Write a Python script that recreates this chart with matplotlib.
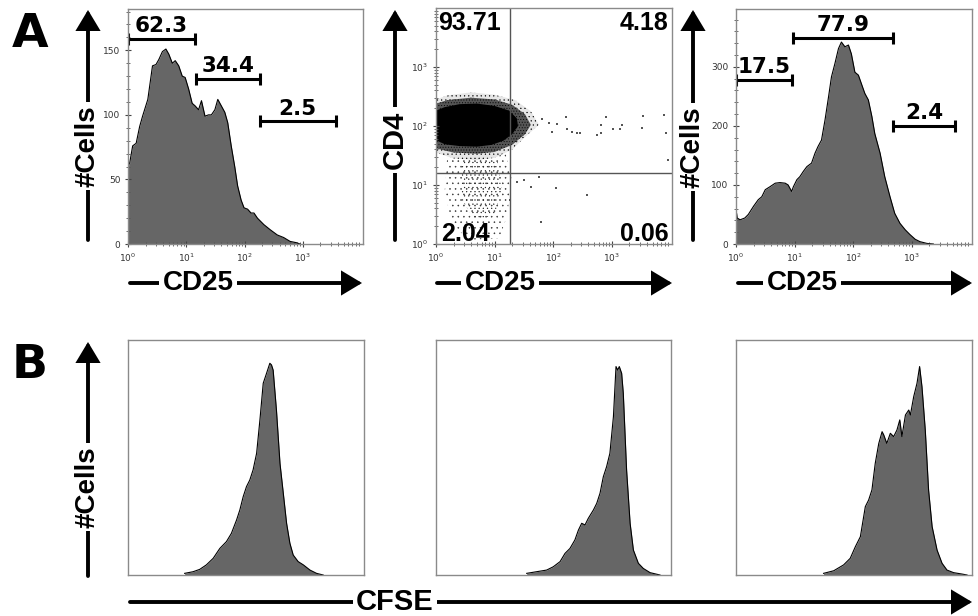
import matplotlib
matplotlib.use("Agg")
import matplotlib.pyplot as plt
import numpy as np
from matplotlib.ticker import FixedLocator, LogLocator, MultipleLocator, NullFormatter

W, H = 979, 616
plt.rcParams['hatch.linewidth'] = 0.35

# ---------------- data ----------------
# Panel A-left: CD25 histogram (log10 CD25, count)
a1_log = [0.0, 0.03, 0.08, 0.14, 0.20, 0.25, 0.34, 0.42, 0.48, 0.53, 0.59, 0.65, 0.70, 0.76,
          0.81, 0.87, 0.93, 0.98, 1.04, 1.10, 1.15, 1.21, 1.26, 1.32, 1.38, 1.43, 1.49, 1.54,
          1.60, 1.66, 1.71, 1.77, 1.83, 1.88, 1.94, 1.99, 2.05, 2.11, 2.16, 2.22, 2.33, 2.44,
          2.56, 2.67, 2.78, 2.89, 2.95]
a1_cnt = [60, 63, 76, 78, 91, 99, 112, 138, 139, 143, 149, 151, 147, 140,
          142, 138, 130, 129, 120, 109, 107, 104, 111, 99, 100, 100, 104, 112,
          107, 102, 94, 76, 60, 45, 34, 28, 27, 24, 24, 20, 15, 11,
          7, 5, 2, 1, 0]
a1_gates = [(1, 13.9, 159, "62.3"), (14.5, 181, 128, "34.4"), (181, 3650, 95, "2.5")]

# Panel A-middle: CD4 vs CD25 dot plot (log10 units)
core_x = [0.0, 0.15, 0.4, 0.7, 0.95, 1.15, 1.3, 1.4, 1.38, 1.25, 1.0, 0.7, 0.4, 0.15, 0.0]
core_y = [1.76, 1.69, 1.66, 1.65, 1.68, 1.75, 1.86, 2.0, 2.13, 2.26, 2.34, 2.38, 2.37, 2.32, 2.26]
fringe_x = [0.0, 0.3, 0.7, 1.0, 1.3, 1.52, 1.62, 1.52, 1.3, 1.0, 0.6, 0.2, 0.0]
fringe_y = [1.62, 1.55, 1.53, 1.56, 1.68, 1.86, 2.02, 2.2, 2.36, 2.45, 2.48, 2.44, 2.38]
halo_x = [0.0, 0.3, 0.7, 1.0, 1.3, 1.55, 1.76, 1.62, 1.35, 1.0, 0.6, 0.2, 0.0]
halo_y = [1.55, 1.45, 1.42, 1.46, 1.60, 1.84, 2.02, 2.25, 2.44, 2.53, 2.57, 2.52, 2.45]
sparse_x = [0.20, 1.17, 1.29, 1.22, 1.08, 0.58, 0.27, 0.15]
sparse_y = [1.59, 1.59, 1.17, 0.49, 0.10, 0.07, 0.32, 0.92]
dense_x = [0.44, 1.05, 1.12, 1.0, 0.66, 0.44]
dense_y = [1.42, 1.42, 0.92, 0.49, 0.41, 0.75]
dots_x = [1.81, 1.93, 2.07, 1.98, 2.22, 2.24, 2.32, 2.41, 2.46, 2.75, 2.81, 2.90, 2.81, 3.03,
          3.14, 3.17, 3.51, 3.54, 3.90, 3.92, 3.97, 1.39, 1.51, 1.63, 1.76, 2.05, 2.58, 1.80, 1.27]
dots_y = [2.12, 2.05, 2.03, 1.90, 2.15, 1.95, 1.90, 1.88, 1.88, 1.85, 1.88, 2.15, 2.02, 1.95,
          1.95, 2.02, 1.97, 2.17, 2.19, 1.88, 1.42, 1.05, 1.08, 0.97, 1.14, 0.95, 0.83, 0.37, 0.75]
quad_x, quad_y = 18.6, 15.8
quad_labels = ["93.71", "4.18", "2.04", "0.06"]

# Panel A-right: CD25 histogram
a3_log = [0.0, 0.01, 0.02, 0.07, 0.15, 0.21, 0.30, 0.38, 0.44, 0.50, 0.58, 0.67, 0.75, 0.84,
          0.89, 0.95, 0.98, 1.04, 1.09, 1.15, 1.21, 1.29, 1.35, 1.40, 1.46, 1.52, 1.58, 1.63,
          1.69, 1.75, 1.80, 1.86, 1.92, 1.97, 2.03, 2.09, 2.15, 2.20, 2.26, 2.32, 2.37, 2.46,
          2.54, 2.63, 2.71, 2.80, 2.89, 2.97, 3.06, 3.14, 3.26, 3.37]
a3_cnt = [50, 52, 44, 41, 44, 50, 64, 75, 80, 92, 97, 103, 104, 103,
          100, 89, 97, 109, 114, 123, 131, 137, 154, 165, 176, 210, 249, 283,
          306, 331, 342, 334, 337, 322, 291, 286, 269, 255, 244, 216, 187, 154,
          114, 80, 52, 35, 24, 16, 8, 4, 1, 0]
a3_gates = [(1, 9.0, 278, "17.5"), (9.4, 480, 349, "77.9"), (480, 5500, 200, "2.4")]

# Panel B: CFSE histograms (CFSE in % of scale, #cells in % of scale)
b1_x = [24.0, 27.6, 30.4, 33.2, 36.1, 38.9, 41.7, 43.8, 46.0, 47.4, 48.8, 50.2, 51.6, 53.0,
        54.5, 55.9, 57.3, 58.7, 60.1, 60.8, 61.5, 62.9, 64.4, 65.8, 67.2, 68.6, 70.0, 72.1,
        74.3, 77.1, 79.9, 82.7]
b1_y = [0.7, 1.4, 2.4, 4.3, 7.1, 11.3, 14.2, 17.7, 23.4, 27.7, 33.3, 37.6, 40.4, 44.7,
        51.8, 66.0, 81.6, 85.8, 90.1, 89.4, 87.2, 70.2, 47.5, 34.8, 22.0, 13.5, 8.5, 5.7,
        4.3, 2.1, 0.7, 0]
b2_x = [38.6, 42.8, 47.1, 49.9, 52.8, 54.9, 57.0, 59.1, 60.6, 62.0, 63.4, 64.8, 67.0, 68.4,
        69.8, 71.2, 72.6, 74.0, 75.5, 76.6, 77.3, 78.0, 79.0, 79.7, 81.1, 82.6, 84.0, 86.1,
        88.2, 91.1, 95.3]
b2_y = [0.7, 1.4, 2.1, 3.5, 5.7, 9.2, 11.3, 14.9, 19.1, 22.0, 21.3, 24.1, 27.7, 30.5,
        34.8, 41.8, 46.1, 51.8, 67.4, 88.7, 87.2, 88.7, 85.8, 77.3, 44.7, 22.0, 10.6, 5.0,
        2.8, 1.0, 0]
b3_x = [37.1, 41.4, 45.6, 48.4, 50.6, 52.7, 54.8, 56.2, 57.6, 59.0, 60.5, 61.9, 62.6, 63.9,
        65.4, 66.8, 68.2, 69.4, 70.3, 71.8, 73.2, 73.9, 75.3, 76.7, 77.8, 78.8, 80.2, 81.6,
        83.1, 85.2, 87.3, 89.4, 92.2, 95.8, 97.9]
b3_y = [0.7, 1.8, 4.3, 7.1, 12.1, 16.3, 29.1, 31.9, 36.2, 47.5, 56.0, 61.0, 59.6, 56.0,
        60.3, 58.9, 61.7, 66.0, 58.9, 68.1, 70.2, 68.1, 75.9, 81.6, 88.7, 80.1, 61.7, 36.2,
        20.6, 10.6, 5.0, 2.1, 1.0, 0.4, 0]

# ---------------- styling ----------------
LABEL_FONT = ['Liberation Sans Narrow', 'Liberation Sans', 'DejaVu Sans']
HIST_GRAY = '#666666'
SPINE = '#8a8a8a'

fig = plt.figure(figsize=(W / 100, H / 100), dpi=100)
fig.patch.set_facecolor('white')


def add_ax(x0, y0, x1, y1):
    return fig.add_axes([x0 / W, 1 - y1 / H, (x1 - x0) / W, (y1 - y0) / H])


def style_box(ax):
    for s in ax.spines.values():
        s.set_color(SPINE)
        s.set_linewidth(1.0)


def log_xaxis(ax):
    ax.set_xscale('log')
    ax.set_xlim(1, 10 ** 4.03)
    ax.xaxis.set_major_locator(FixedLocator([1, 10, 100, 1000]))
    ax.set_xticklabels([r'$10^{0}$', r'$10^{1}$', r'$10^{2}$', r'$10^{3}$'])
    ax.xaxis.set_minor_locator(LogLocator(base=10, subs=np.arange(2, 10), numticks=20))
    ax.xaxis.set_minor_formatter(NullFormatter())


def ticks(ax):
    ax.tick_params(which='major', direction='inout', length=5, width=0.8, colors='#444444',
                   labelsize=6.5, labelcolor='#333333', pad=3)
    ax.tick_params(which='minor', direction='inout', length=2.5, width=0.6, colors='#555555')
    ax.tick_params(top=False, right=False)


def histogram(ax, xs, ys):
    ax.fill_between(xs, ys, 0, color=HIST_GRAY, lw=0)
    ax.plot(xs, ys, color='black', lw=0.8)


def gate(ax, x0, x1, y, label):
    ax.plot([x0, x1], [y, y], color='black', lw=2.2, solid_capstyle='butt')
    ax.plot([x0, x1], [y, y], ls='none', marker='|', ms=9, mew=2.2, color='black')
    xc = np.sqrt(x0 * x1)
    ax.annotate(label, xy=(xc, y), xytext=(0, 2), textcoords='offset points',
                ha='center', va='bottom', fontsize=15.5, fontweight='bold',
                family='DejaVu Sans')


def poly(ax, lx, ly, **kw):
    ax.fill(10 ** np.array(lx), 10 ** np.array(ly), lw=0, **kw)


# ---- A left
ax1 = add_ax(128, 9, 363, 244)
histogram(ax1, 10 ** np.array(a1_log), a1_cnt)
log_xaxis(ax1)
ax1.set_ylim(0, 182)
ax1.yaxis.set_major_locator(FixedLocator([0, 50, 100, 150]))
ax1.yaxis.set_minor_locator(MultipleLocator(10))
for g in a1_gates:
    gate(ax1, *g)
style_box(ax1)
ticks(ax1)

# ---- A middle
ax2 = add_ax(436, 8, 672, 244)
poly(ax2, sparse_x, sparse_y, facecolor='none', edgecolor='#333333', hatch='...')
poly(ax2, dense_x, dense_y, facecolor='none', edgecolor='#222222', hatch='....')
poly(ax2, halo_x, halo_y, facecolor='#e6e6e6', edgecolor='black', hatch='....')
poly(ax2, fringe_x, fringe_y, facecolor='#555555', edgecolor='black', hatch='......')
poly(ax2, core_x, core_y, facecolor='black')
ax2.scatter(10 ** np.array(dots_x), 10 ** np.array(dots_y), s=1.0, c='#555555', marker='s', lw=0)
log_xaxis(ax2)
ax2.set_yscale('log')
ax2.set_ylim(1, 10 ** 4.0)
ax2.yaxis.set_major_locator(FixedLocator([1, 10, 100, 1000]))
ax2.set_yticklabels([r'$10^{0}$', r'$10^{1}$', r'$10^{2}$', r'$10^{3}$'])
ax2.yaxis.set_minor_locator(LogLocator(base=10, subs=np.arange(2, 10), numticks=20))
ax2.yaxis.set_minor_formatter(NullFormatter())
ax2.axvline(quad_x, color='#555555', lw=1.0)
ax2.axhline(quad_y, color='#555555', lw=1.0)
qk = dict(fontsize=18, fontweight='bold', family=['Liberation Sans', 'DejaVu Sans'])
ax2.text(0.01, 0.905, quad_labels[0], transform=ax2.transAxes, ha='left', va='baseline', **qk)
ax2.text(0.985, 0.905, quad_labels[1], transform=ax2.transAxes, ha='right', va='baseline', **qk)
ax2.text(0.02, 0.013, quad_labels[2], transform=ax2.transAxes, ha='left', va='baseline', **qk)
ax2.text(0.985, 0.013, quad_labels[3], transform=ax2.transAxes, ha='right', va='baseline', **qk)
style_box(ax2)
ticks(ax2)

# ---- A right
ax3 = add_ax(736, 9, 972, 244)
histogram(ax3, 10 ** np.array(a3_log), a3_cnt)
log_xaxis(ax3)
ax3.set_ylim(0, 398)
ax3.yaxis.set_major_locator(FixedLocator([0, 100, 200, 300]))
ax3.yaxis.set_minor_locator(MultipleLocator(20))
for g in a3_gates:
    gate(ax3, *g)
style_box(ax3)
ticks(ax3)

# ---- B row
for (x0, x1), bx, by in [((128, 364), b1_x, b1_y), ((436, 671), b2_x, b2_y),
                         ((736, 972), b3_x, b3_y)]:
    ax = add_ax(x0, 340, x1, 575)
    histogram(ax, bx, by)
    ax.set_xlim(0, 100)
    ax.set_ylim(0, 100)
    ax.set_xticks([])
    ax.set_yticks([])
    style_box(ax)


# ---------------- arrows & axis labels (figure pixels, y from top) ----------------
def arrow(x0, y0, x1, y1):
    fig.add_artist(matplotlib.patches.FancyArrowPatch(
        (x0, H - y0), (x1, H - y1), transform=None,
        arrowstyle='-|>,head_length=0.55,head_width=0.33', mutation_scale=20,
        lw=2.8, color='black', shrinkA=0, shrinkB=0, joinstyle='miter'))


def label(x, y, s, rot=0, size=20):
    fig.text(x / W, 1 - y / H, s, rotation=rot, ha='center', va='center',
             fontsize=size, fontweight='bold', family=LABEL_FONT,
             bbox=dict(facecolor='white', edgecolor='none', pad=2.5))


# A vertical arrows
arrow(88, 240, 88, 10)
label(88, 146, '#Cells', rot=90)
arrow(395, 240, 395, 10)
label(395, 140, 'CD4', rot=90, size=21)
arrow(693, 240, 693, 10)
label(693, 147, '#Cells', rot=90)
# A horizontal arrows
arrow(130, 283, 362, 283)
label(198, 283, 'CD25')
arrow(437, 283, 672, 283)
label(500, 283, 'CD25')
arrow(738, 283, 972, 283)
label(802, 283, 'CD25')
# B arrows
arrow(88, 576, 88, 342)
label(88, 487, '#Cells', rot=90)
arrow(130, 602, 972, 602)
label(395, 602, 'CFSE', size=21)

# panel letters
fig.text(12 / W, 1 - 47 / H, 'A', fontsize=34, fontweight='bold', family='DejaVu Sans',
         ha='left', va='baseline')
fig.text(12 / W, 1 - 378 / H, 'B', fontsize=34, fontweight='bold', family='DejaVu Sans',
         ha='left', va='baseline')

fig.savefig('out.png', dpi=100, facecolor='white')
